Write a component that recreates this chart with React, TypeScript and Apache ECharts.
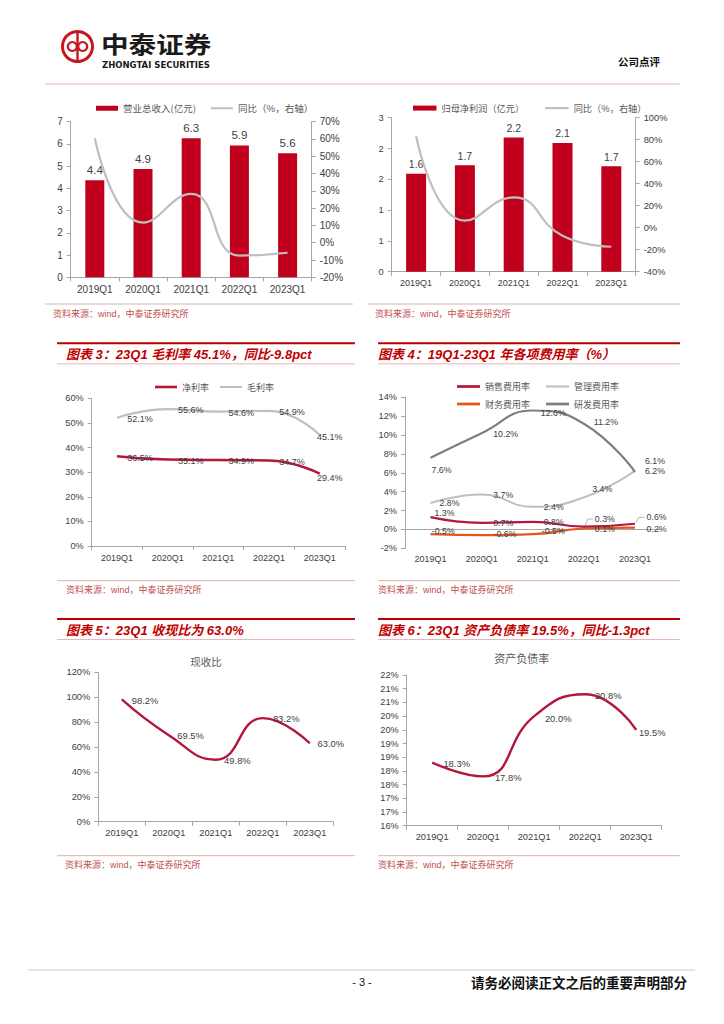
import React, { useEffect, useRef } from "react";
import * as echarts from "echarts";

// ---------------- data ----------------
const quarters = ["2019Q1", "2020Q1", "2021Q1", "2022Q1", "2023Q1"];
const revenue = [4.37, 4.87, 6.26, 5.93, 5.58];
const revenueYoY = [60.4, 11.6, 28.2, -7.5, -5.8];
const netProfit = [1.59, 1.73, 2.18, 2.09, 1.71];
const netProfitYoY = [83.4, 6.4, 27.6, -7.3, -17.3];
const netMargin = [36.5, 35.1, 34.9, 34.7, 29.4];
const grossMargin = [52.1, 55.6, 54.6, 54.9, 45.1];
const salesRate = [1.3, 0.7, 0.8, 0.3, 0.6];
const adminRate = [2.8, 3.7, 2.4, 3.4, 6.2];
const financeRate = [-0.5, -0.6, -0.5, 0.1, 0.2];
const rdRate = [7.6, 10.2, 12.6, 11.2, 6.1];
const cashRatio = [98.2, 69.5, 49.8, 83.2, 63.0];
const debtRatio = [18.3, 17.8, 20.0, 20.8, 19.5];

// ---------------- label placement (style) ----------------
const grossOff = [[23, 1], [23, 1], [23, 1], [23, 1], [10, 2]];
const netOff = [[23, 1.5], [23, 1], [23, 1], [23, 1], [10, 4.5]];
const rdOff = [[11, 12], [24, 0.5], [20.5, 2], [22, -1.5], [20, -11]];
const adminOff = [[19, 0.3], [21.6, 0.5], [21, 0.6], [18.4, -8.3], [20, 0]];
const salesOff = [[14, -4], [21.6, 0], [21, 0], [21, -7.6], [21.7, -6.4]];
const finOff = [[12.7, -3], [23.3, -1], [20.5, -3.4], [21, 0.8], [21.7, 1.2]];
const cashOff = [[23.3, 0.6], [21.7, 0.5], [21.6, 1], [23.4, 0], [21, 0]];
const debtOff = [[24.5, 1], [25, 1], [24, 2.6], [23, 1], [16, 3]];
const leaderIdx = [3, 4];

const NUM = "'Liberation Sans', Arial, sans-serif";
const CJK = "'Noto Sans CJK SC', sans-serif";
const MIX = "'Liberation Sans', 'Noto Sans CJK SC', sans-serif";
const AX = "#a6a6a6";
const LBL = "#404040";
const BAR = "#c0001c";
const CRIM = "#b3173b";
const LGRAY = "#bfbfbf";
const DGRAY = "#7f7f7f";
const ORANGE = "#e4571b";
const TRED = "#c00000";
const SRC = "#c0504d";
const LINEICON = "path://M0 0H22V2H0Z";
const LINEICON2 = "path://M0 0H22V2.6H0Z";

const catAxis = (gridIndex: number, fontSize: number, extra: any = {}) => ({
  type: "category",
  gridIndex,
  data: quarters,
  boundaryGap: true,
  axisLine: { show: true, onZero: false, lineStyle: { color: AX, width: 1 } },
  axisTick: { show: true, length: 4, lineStyle: { color: AX } },
  axisLabel: { fontSize, color: LBL, fontFamily: NUM, margin: 7 },
  splitLine: { show: false },
  ...extra,
});

const valAxis = (
  gridIndex: number,
  min: number,
  max: number,
  interval: number,
  formatter: any,
  fontSize: number,
  extra: any = {}
) => ({
  type: "value",
  gridIndex,
  min,
  max,
  interval,
  axisLine: { show: true, lineStyle: { color: AX } },
  axisTick: { show: true, length: 4, lineStyle: { color: AX } },
  axisLabel: { formatter, fontSize, color: LBL, fontFamily: NUM, margin: 8 },
  splitLine: { show: false },
  ...extra,
});

const pct1 = (p: any) => Number(p.value).toFixed(1) + "%";

const lineSeries = (
  name: string,
  values: number[],
  offs: number[][],
  color: string,
  xi: number,
  yi: number,
  width: number,
  fontSize: number
) => ({
  type: "line",
  name,
  xAxisIndex: xi,
  yAxisIndex: yi,
  smooth: true,
  symbol: "circle",
  symbolSize: 0.5,
  showSymbol: true,
  itemStyle: { color },
  lineStyle: { color, width },
  data: values,
  label: {
    show: true,
    position: "inside",
    formatter: pct1,
    fontSize,
    color: LBL,
    fontFamily: NUM,
  },
  labelLayout: (p: any) => ({
    dx: offs[p.dataIndex][0],
    dy: offs[p.dataIndex][1],
    hideOverlap: false,
  }),
});

const T = (x: number, y: number, text: string, style: any = {}, extra: any = {}) => ({
  type: "text",
  x,
  y,
  silent: true,
  ...extra,
  style: {
    text,
    fill: "#000",
    fontFamily: MIX,
    fontSize: 10,
    textAlign: "left",
    align: "left",
    textVerticalAlign: "middle",
    verticalAlign: "middle",
    ...style,
  },
});
const L = (x1: number, y1: number, x2: number, y2: number, stroke: string, lineWidth: number) => ({
  type: "line",
  silent: true,
  shape: { x1, y1, x2, y2 },
  style: { stroke, lineWidth },
});

const titleBlock = (x1: number, x2: number, tx: number, yTop: number, text: string) => [
  L(x1, yTop, x2, yTop, TRED, 2),
  T(tx, yTop + 11, text, {
    fill: TRED,
    fontSize: 13,
    fontWeight: "bold",
    fontStyle: "italic",
    fontFamily: MIX,
  }),
  L(x1, yTop + 20.5, x2, yTop + 20.5, "#e6b8b7", 1),
];

const sourceBlock = (x1: number, x2: number, tx: number, yLine: number) => [
  L(x1, yLine, x2, yLine, "#d9b3b0", 1),
  T(tx, yLine + 9.5, "资料来源：wind，中泰证券研究所", { fill: SRC, fontSize: 9 }),
];

const graphics: any[] = [
  // header logo
  { type: "ring", silent: true, shape: { cx: 77.5, cy: 46.5, r: 16.5, r0: 13.6 }, style: { fill: "#c8161d" } },
  { type: "ring", silent: true, shape: { cx: 72.3, cy: 46.5, r: 5.6, r0: 3.4 }, style: { fill: "#c8161d" } },
  { type: "ring", silent: true, shape: { cx: 82.7, cy: 46.5, r: 5.6, r0: 3.4 }, style: { fill: "#c8161d" } },
  { type: "rect", silent: true, shape: { x: 76.3, y: 31, width: 2.4, height: 31 }, style: { fill: "#c8161d" } },
  T(
    101,
    43,
    "中泰证券",
    { fontSize: 23, lineHeight: 23, fontWeight: "bold", fontFamily: CJK, fill: "#1a1a1a" },
    { scaleX: 1.2 }
  ),
  T(102, 64.5, "ZHONGTAI SECURITIES", {
    fontSize: 8.5,
    lineHeight: 9,
    fontWeight: "bold",
    fontFamily: "'DejaVu Sans', sans-serif",
    fill: "#1a1a1a",
  }),
  T(618, 61, "公司点评", { fontSize: 10.5, fontWeight: "bold", fontFamily: CJK, fill: "#111" }),
  L(45, 84, 680, 84, "#e3b5b8", 1),
  // row 1 sources
  ...sourceBlock(45, 353, 53, 304),
  ...sourceBlock(368, 680, 375, 304),
  // row 2
  ...titleBlock(57, 355, 66, 343.3, "图表 3：23Q1 毛利率 45.1%，同比-9.8pct"),
  ...titleBlock(378, 680, 378, 343.3, "图表 4：19Q1-23Q1 年各项费用率（%）"),
  ...sourceBlock(57, 355, 66, 580.7),
  ...sourceBlock(378, 680, 378, 580.7),
  // row 3
  ...titleBlock(57, 355, 66, 619, "图表 5：23Q1 收现比为 63.0%"),
  ...titleBlock(378, 680, 378, 619, "图表 6：23Q1 资产负债率 19.5%，同比-1.3pct"),
  ...sourceBlock(57, 355, 65, 855.7),
  ...sourceBlock(378, 680, 378, 855.7),
  T(206, 661, "现收比", { fontSize: 10.5, fontFamily: CJK, fill: "#595959", textAlign: "center", align: "center" }),
  T(521.7, 658, "资产负债率", { fontSize: 11, fontFamily: CJK, fill: "#595959", textAlign: "center", align: "center" }),
  // footer
  L(28, 970, 695, 970, "#dcc7b0", 1),
  T(362, 982, "- 3 -", { fontSize: 11, fontFamily: NUM, fill: "#111", textAlign: "center", align: "center" }),
  T(471, 982, "请务必阅读正文之后的重要声明部分", { fontSize: 13.5, fontWeight: "bold", fontFamily: CJK, fill: "#111" }),
];

const legendText = (fontSize: number) => ({ fontSize, color: "#595959", fontFamily: CJK });

const option: any = {
  animation: false,
  backgroundColor: "#ffffff",
  grid: [
    { left: 70.7, top: 121.7, width: 241, height: 155.6 },
    { left: 391.7, top: 117.7, width: 244, height: 154 },
    { left: 91.7, top: 398.3, width: 253.3, height: 147.7 },
    { left: 405, top: 397.3, width: 255.5, height: 151 },
    { left: 98.3, top: 672.3, width: 235, height: 149.4 },
    { left: 406.7, top: 675, width: 255, height: 150.7 },
  ],
  xAxis: [
    catAxis(0, 10),
    catAxis(1, 9),
    catAxis(2, 9),
    catAxis(3, 9, {
      axisLine: { show: true, onZero: true, lineStyle: { color: AX, width: 1 } },
      axisTick: { show: false },
      axisLabel: { fontSize: 9, color: LBL, fontFamily: NUM, margin: 6 },
    }),
    catAxis(4, 9.3),
    catAxis(5, 9.3),
  ],
  yAxis: [
    valAxis(0, 0, 7, 1, "{value}", 10),
    valAxis(1, -20, 70, 10, "{value}%", 10, { gridIndex: 0, position: "right" }),
    valAxis(1, 0, 2.5, 0.5, (v: number) => String(Math.round(v)), 9.3),
    valAxis(1, -40, 100, 20, "{value}%", 9.3, { position: "right" }),
    valAxis(2, 0, 60, 10, "{value}%", 9.2),
    valAxis(3, -2, 14, 2, "{value}%", 9.2),
    valAxis(4, 0, 120, 20, "{value}%", 9.3),
    valAxis(5, 16, 21.5, 0.5, (v: number) => Math.round(v) + "%", 9.2),
  ],
  legend: [
    {
      left: 91,
      top: 98.5,
      itemWidth: 22,
      itemHeight: 5,
      itemGap: 15,
      selectedMode: false,
      data: [
        { name: "营业总收入(亿元)", icon: "rect" },
        { name: "同比（%，右轴）", icon: LINEICON },
      ],
      textStyle: legendText(9.5),
    },
    {
      left: 408,
      top: 98.5,
      itemWidth: 23.5,
      itemHeight: 5,
      itemGap: 21,
      selectedMode: false,
      data: [
        { name: "归母净利润（亿元）", icon: "rect" },
        { name: "同比（%，右轴）", icon: LINEICON },
      ],
      textStyle: legendText(9.2),
    },
    {
      left: 150,
      top: 377.5,
      itemWidth: 22,
      itemHeight: 5,
      itemGap: 11,
      selectedMode: false,
      data: [
        { name: "净利率", icon: LINEICON2 },
        { name: "毛利率", icon: LINEICON },
      ],
      textStyle: legendText(9),
    },
    {
      left: 452,
      top: 377,
      itemWidth: 23,
      itemHeight: 5,
      itemGap: 16,
      selectedMode: false,
      data: [
        { name: "销售费用率", icon: LINEICON2 },
        { name: "管理费用率", icon: LINEICON },
      ],
      textStyle: legendText(9),
    },
    {
      left: 452,
      top: 394.5,
      itemWidth: 23,
      itemHeight: 5,
      itemGap: 16,
      selectedMode: false,
      data: [
        { name: "财务费用率", icon: LINEICON2 },
        { name: "研发费用率", icon: LINEICON2 },
      ],
      textStyle: legendText(9),
    },
  ],
  series: [
    {
      type: "bar",
      name: "营业总收入(亿元)",
      xAxisIndex: 0,
      yAxisIndex: 0,
      data: revenue,
      barWidth: 19,
      itemStyle: { color: BAR },
      label: {
        show: true,
        position: "top",
        distance: 4,
        formatter: (p: any) => Number(p.value).toFixed(1),
        fontSize: 11.5,
        color: LBL,
        fontFamily: NUM,
      },
    },
    {
      type: "line",
      name: "同比（%，右轴）",
      xAxisIndex: 0,
      yAxisIndex: 1,
      data: revenueYoY,
      smooth: true,
      symbol: "none",
      itemStyle: { color: LGRAY },
      lineStyle: { color: LGRAY, width: 2.2 },
    },
    {
      type: "bar",
      name: "归母净利润（亿元）",
      xAxisIndex: 1,
      yAxisIndex: 2,
      data: netProfit,
      barWidth: 20,
      itemStyle: { color: BAR },
      label: {
        show: true,
        position: "top",
        distance: 4,
        formatter: (p: any) => Number(p.value).toFixed(1),
        fontSize: 10.5,
        color: LBL,
        fontFamily: NUM,
      },
    },
    {
      type: "line",
      name: "同比（%，右轴）",
      xAxisIndex: 1,
      yAxisIndex: 3,
      data: netProfitYoY,
      smooth: true,
      symbol: "none",
      itemStyle: { color: LGRAY },
      lineStyle: { color: LGRAY, width: 2.2 },
    },
    lineSeries("毛利率", grossMargin, grossOff, LGRAY, 2, 4, 2.2, 9),
    lineSeries("净利率", netMargin, netOff, CRIM, 2, 4, 2.5, 9),
    lineSeries("管理费用率", adminRate, adminOff, LGRAY, 3, 5, 2, 8.8),
    lineSeries("研发费用率", rdRate, rdOff, DGRAY, 3, 5, 2.2, 8.8),
    lineSeries("财务费用率", financeRate, finOff, ORANGE, 3, 5, 2.2, 8.8),
    lineSeries("销售费用率", salesRate, salesOff, CRIM, 3, 5, 2.2, 8.8),
    lineSeries("现收比", cashRatio, cashOff, CRIM, 4, 6, 2.4, 9.4),
    lineSeries("资产负债率", debtRatio, debtOff, CRIM, 5, 7, 2.4, 9.4),
  ],
  graphic: { elements: graphics },
};

export default function App() {
  const ref = useRef<HTMLDivElement>(null);
  useEffect(() => {
    if (!ref.current) return;
    const chart = echarts.init(ref.current, null, { renderer: "svg", width: 724, height: 1024 });
    chart.setOption(option);
    // leader lines for the moved sales-rate labels, positioned via the chart's own scales
    const leaders: any[] = leaderIdx.map((i) => {
      const pt = chart.convertToPixel({ xAxisIndex: 3, yAxisIndex: 5 }, [quarters[i], salesRate[i]]) as number[];
      const [dx, dy] = salesOff[i];
      return {
        type: "polyline",
        id: "leader" + i,
        silent: true,
        shape: {
          points: [
            [pt[0] + 1, pt[1] - 1],
            [pt[0] + 4, pt[1] + dy],
            [pt[0] + dx - 12, pt[1] + dy],
          ],
        },
        style: { stroke: "#a6a6a6", lineWidth: 0.8, fill: "none" },
      };
    });
    chart.setOption({ graphic: { elements: [...graphics, ...leaders] } });
    return () => chart.dispose();
  }, []);
  return (
    <div
      ref={ref}
      style={{ position: "absolute", left: 0, top: 0, width: 724, height: 1024, background: "#fff" }}
    />
  );
}
